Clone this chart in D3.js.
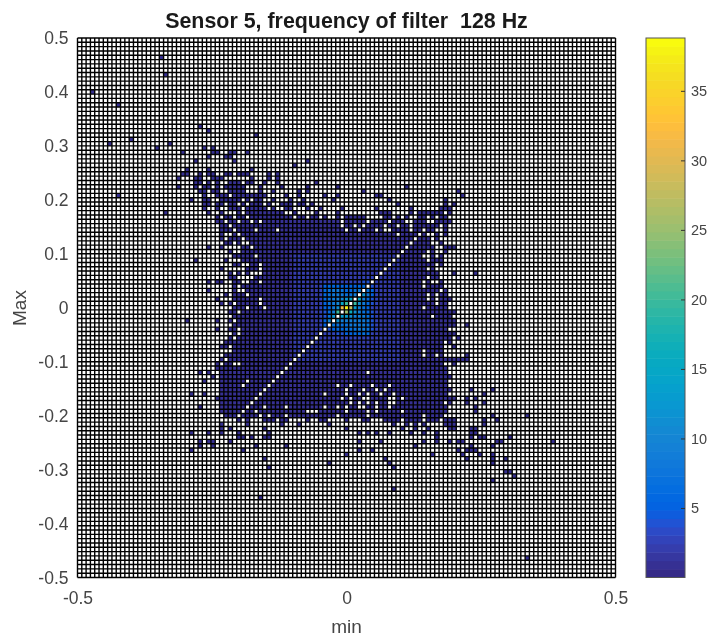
<!DOCTYPE html>
<html>
<head>
<meta charset="utf-8">
<script src="https://cdn.jsdelivr.net/npm/d3@7"></script>
<style>
  html, body { margin: 0; padding: 0; background: #fff; overflow: hidden; }
  svg { display: block; filter: blur(0.35px); font-family: "Liberation Sans", Arial, sans-serif; }
</style>
</head>
<body>
<div id="chart"></div>
<script>
// Histogram cells are addressed as [col, row], col from min = -0.5, row from Max = 0.5
var binCount = 125;
var xTicks = [-0.5, 0, 0.5];
var yTicks = [-0.5, -0.4, -0.3, -0.2, -0.1, 0, 0.1, 0.2, 0.3, 0.4, 0.5];
var barTicks = [5, 10, 15, 20, 25, 30, 35];
var barMax = 38.8;

// Solid part of the cloud, one entry per row starting at bodyTopRow
var bodyTopRow = 31;
var bodyFirst = [28,27,27,27,28,29,26,29,29,30,32,32,33,33,33,33,34,33,35,36,34,36,33,35,35,33,36,36,34,36,35,36,35,36,35,36,35,36,35,34,33,35,34,33,34,33,33,33,33,33,33,33,32,33,33,33,34,34];
var bodyLast = [31,46,55,60,66,70,72,74,85,86,85,86,85,85,85,84,84,87,85,84,84,84,83,83,83,84,84,85,85,86,85,85,86,86,87,87,85,87,86,85,85,85,85,86,87,85,85,86,85,85,86,85,87,86,85,85,85,85];

// Slightly higher counts around the middle
var innerRows = [50,51,52,53,54,55,56,57,58,59,60,61,62,63,64,65,66,67,68,69,70,71,72,73,74];
var innerFirst = 50;
var innerLast = 74;

// Empty runs inside the body: [row, firstCol, lastCol]
var gaps = [
  [31,29,29],
  [32,29,30],[32,34,39],[32,41,43],[32,45,45],
  [33,29,29],[33,31,31],[33,33,34],[33,38,38],[33,41,42],[33,44,45],[33,47,54],
  [34,28,28],[34,31,31],[34,33,33],[34,39,41],[34,43,46],[34,48,52],[34,54,59],
  [35,30,30],[35,33,34],[35,39,41],[35,43,44],[35,46,50],[35,52,52],[35,54,65],
  [36,30,31],[36,35,35],[36,44,47],[36,49,50],[36,52,56],[36,58,68],
  [37,27,28],[37,31,32],[37,38,38],[37,40,40],[37,43,44],[37,46,48],[37,50,51],[37,53,58],[37,60,71],
  [38,31,31],[38,34,34],[38,37,37],[38,39,39],[38,43,43],[38,45,46],[38,50,50],[38,53,53],[38,55,73],
  [39,30,31],[39,33,34],[39,38,38],[39,44,44],[39,46,47],[39,50,52],[39,54,55],[39,57,60],[39,62,68],[39,70,76],[39,78,83],
  [40,31,32],[40,34,36],[40,38,38],[40,48,49],[40,51,54],[40,56,59],[40,61,69],[40,73,76],[40,78,78],[40,85,85],
  [41,33,33],[41,36,36],[41,39,39],[41,50,50],[41,53,53],[41,56,56],[41,58,59],[41,61,61],[41,67,70],[41,73,73],[41,75,75],[41,77,78],[41,81,81],[41,83,83],
  [42,34,34],[42,37,37],[42,40,40],[42,42,42],[42,61,61],[42,67,67],[42,72,72],[42,76,77],[42,81,82],
  [43,35,35],[43,61,61],[43,64,64],[43,66,66],[43,71,71],[43,74,74],[43,77,77],[43,84,84],
  [44,36,36],[44,41,41],[44,46,46],[44,62,62],[44,65,65],[44,69,69],[44,71,72],[44,77,77],[44,80,80],[44,83,84],
  [45,34,35],[45,37,37],[45,74,74],[45,79,79],[45,81,82],[45,84,84],
  [46,34,34],[46,38,38],[46,82,82],[46,84,84],
  [47,36,36],[47,38,39],[47,82,83],
  [48,34,37],[48,40,40],[48,83,84],
  [49,36,37],[49,81,81],[49,83,84],
  [50,41,41],[50,80,81],[50,83,83],
  [51,35,37],[51,81,81],
  [52,38,39],[52,42,42],[52,83,83],
  [53,34,38],[53,42,42],[53,81,81],[53,83,83],
  [54,36,36],[54,38,38],[54,40,42],
  [55,37,40],[55,81,81],
  [56,34,35],[56,38,39],[56,42,42],[56,80,80],[56,82,83],
  [57,37,37],[57,80,80],
  [58,37,38],[58,84,84],
  [59,35,35],[59,39,39],[59,81,81],[59,83,83],
  [60,42,42],[60,81,81],[60,83,83],
  [61,36,36],[61,42,42],[61,83,83],
  [62,39,39],[62,43,43],[62,80,80],
  [63,37,37],[64,82,82],[65,36,36],[67,37,37],[68,37,37],[69,36,36],
  [70,85,85],[71,35,35],[71,85,85],[72,35,35],[72,80,80],[72,85,85],
  [73,83,83],[73,80,80],[73,85,85],[74,34,34],[75,36,37],[75,85,86],
  [77,67,67],[79,39,39],
  [80,38,38],[80,44,44],[80,60,60],[80,63,63],[80,68,68],[80,72,72],
  [81,62,62],[81,66,66],[81,69,69],[81,71,71],
  [82,57,57],[82,62,62],[82,65,65],[82,67,67],[82,70,70],[82,73,73],
  [83,61,61],[83,63,63],[83,66,67],[83,72,73],[83,75,75],
  [84,63,63],[84,65,65],[84,67,67],[84,69,69],[84,72,73],[84,85,85],
  [85,39,39],[85,43,43],[85,48,48],[85,57,57],[85,60,60],[85,62,62],[85,65,66],[85,69,69],[85,72,72],
  [86,38,38],[86,41,41],[86,53,55],[86,62,62],[86,67,67],[86,69,69],[86,75,75],
  [87,42,42],[87,44,44],[87,48,48],[87,60,60],[87,67,67],[87,80,80],[87,85,85],
  [88,33,35],[88,38,38],[88,40,42],[88,46,46],[88,49,52],[88,54,55],[88,58,61],[88,63,65],[88,68,70],[88,75,75],[88,80,80],[88,84,84]
];

// Counts around the peak, rows coreTopRow.. and cols coreLeftCol..
var coreLeftCol = 55;
var coreTopRow = 55;
var coreCounts = [
  [2,2,2,2,2,2,2,2,2,2,2,3,3,3,2],
  [2,2,3,3,3,3,3,3,3,3,3,4,4,4,3],
  [2,3,5,6,6,6,5,5,5,5,6,6,6,4,3],
  [2,3,6,7,8,8,7,6,6,7,8,9,7,5,3],
  [2,3,6,7,8,8,8,7,7,9,12,12,8,5,3],
  [2,3,6,7,8,9,10,12,14,1,15,9,6,4,3],
  [2,3,5,7,8,10,14,20,1,20,11,8,6,4,3],
  [2,3,5,6,8,11,31,38,28,13,9,7,5,3,2],
  [2,3,4,6,9,20,1,25,16,11,9,7,6,4,3],
  [2,3,4,7,12,1,13,13,11,9,9,8,7,4,3],
  [2,3,5,10,1,11,9,9,9,8,8,8,7,4,3],
  [2,3,5,1,7,7,7,7,8,8,8,8,7,4,3],
  [2,3,1,4,5,6,6,7,7,7,8,8,7,4,3],
  [2,2,3,3,3,4,4,5,5,6,6,7,6,3,2],
  [2,2,2,2,3,3,3,3,3,3,3,3,3,2,2]
];

// Empty cells along the main diagonal, listed by column (row = 124 - col)
var diagonalCols = [36,37,38,39,40,41,42,43,44,45,46,47,48,49,50,51,52,53,54,55,56,57,58,59,60,61,
                    63,64,65,66,67,68,69,70,71,72,73,74,75,76,77,78,79,80,82];

// Single stray cells with count 1 outside the body
var strays = [
  [19,4],[20,8],[3,12],[9,15],[28,20],[30,21],[41,22],[12,23],[7,24],[21,24],[18,25],[29,25],[31,25],
  [24,26],[31,26],[32,26],[36,26],[35,26],[39,26],[30,27],[34,27],[35,27],[36,28],[27,28],[50,29],[53,28],
  [25,30],[30,30],[40,30],[24,31],[25,31],[34,31],[35,31],[37,31],[38,31],[39,31],[44,31],[46,31],
  [23,32],[23,34],[9,36],[26,37],[20,40],[76,34],[60,36],[88,35],[89,36],
  [85,37],[69,39],[77,39],[87,38],[85,38],[86,39],[84,39],
  [86,40],[87,48],[87,54],[92,54],[85,59],[86,60],[85,61],[90,66],
  [87,63],[86,64],[87,65],[88,69],[86,70],[87,71],[90,73],[86,74],[87,74],[88,74],[89,74],[90,74],
  [27,51],[30,48],[33,48],[30,56],[32,56],[30,58],[32,60],[33,61],[25,65],[32,65],[32,67],[32,75],[32,76],
  [28,77],[30,77],[31,78],[29,79],[26,82],[29,82],[28,85],
  [86,88],[87,88],
  [33,89],[39,89],[47,89],[51,89],[58,89],[73,89],[76,89],[78,89],[80,89],[85,89],[86,89],[87,89],
  [33,90],[35,90],[43,90],[62,90],[75,90],[78,90],[81,90],[86,90],[87,90],
  [26,91],[30,91],[33,91],[37,91],[44,91],[65,91],[67,91],[69,91],[72,91],[77,91],[80,91],[83,91],[91,91],[92,91],
  [37,92],[38,92],[40,92],[43,92],[44,92],[83,92],[91,92],[93,92],[94,92],[100,92],
  [28,93],[30,93],[31,93],[35,93],[65,93],[70,93],[80,93],[83,93],[86,93],[88,93],[89,93],[97,93],[98,93],[110,93],
  [28,94],[31,94],[41,94],[48,94],[78,94],[91,94],[96,94],
  [26,95],[38,95],[65,95],[68,95],[88,95],[90,95],[91,95],[92,95],
  [62,96],[82,96],[89,96],[93,96],[96,96],[43,97],[71,97],[90,97],[96,97],[99,97],
  [58,98],[72,98],[96,98],[44,99],[73,99],[99,100],[100,100],[101,101],[96,102],[73,104],[42,106],[104,120],
  [91,81],[94,82],[96,81],[90,83],[92,83],[90,84],[94,84],[92,85],[92,86],[96,87],[104,87],[97,88],[94,88],[94,89],[91,90],[92,90]
];

// MATLAB parula, 64 steps
var parula = [
  [.2081,.1663,.5292],[.2116,.1898,.5777],[.2123,.2138,.6270],[.2081,.2386,.6771],[.1959,.2645,.7279],[.1707,.2919,.7792],
  [.1253,.3242,.8303],[.0591,.3598,.8683],[.0117,.3875,.8820],[.0060,.4086,.8828],[.0165,.4266,.8786],[.0329,.4430,.8720],
  [.0498,.4586,.8641],[.0629,.4737,.8554],[.0723,.4887,.8467],[.0779,.5040,.8384],[.0793,.5200,.8312],[.0749,.5375,.8263],
  [.0641,.5570,.8240],[.0488,.5772,.8228],[.0343,.5966,.8199],[.0265,.6137,.8135],[.0239,.6287,.8038],[.0231,.6418,.7913],
  [.0228,.6535,.7768],[.0267,.6642,.7607],[.0384,.6743,.7436],[.0590,.6838,.7254],[.0843,.6928,.7062],[.1133,.7015,.6859],
  [.1453,.7098,.6646],[.1801,.7177,.6424],[.2178,.7250,.6193],[.2586,.7317,.5954],[.3022,.7376,.5712],[.3482,.7424,.5473],
  [.3953,.7459,.5244],[.4420,.7481,.5033],[.4871,.7491,.4840],[.5300,.7491,.4661],[.5709,.7485,.4494],[.6099,.7473,.4337],
  [.6473,.7456,.4188],[.6834,.7435,.4044],[.7184,.7411,.3905],[.7525,.7384,.3768],[.7858,.7356,.3633],[.8185,.7327,.3498],
  [.8507,.7299,.3360],[.8824,.7274,.3217],[.9139,.7258,.3063],[.9450,.7261,.2886],[.9739,.7314,.2666],[.9938,.7455,.2403],
  [.9990,.7653,.2164],[.9955,.7861,.1967],[.9880,.8066,.1794],[.9789,.8271,.1633],[.9697,.8481,.1475],[.9626,.8705,.1309],
  [.9589,.8949,.1132],[.9598,.9218,.0948],[.9661,.9514,.0755],[.9763,.9831,.0538]
].map(function(c) { return d3.rgb(c[0]*255, c[1]*255, c[2]*255).formatHex(); });

var textColor = "#454545";

var visualize = function() {
  var svg = d3.select("#chart").append("svg").attr("width", 708).attr("height", 636);

  // Scales
  var binWidth = 1 / binCount;
  var x = d3.scaleLinear().domain([-0.5, 0.5]).range([77.5, 615.5]);
  var y = d3.scaleLinear().domain([-0.5, 0.5]).range([577.5, 38]);
  var color = d3.scaleQuantize().domain([0, barMax]).range(parula);
  var barY = d3.scaleLinear().domain([0, barMax]).range([577.5, 38]);

  // Build the count table
  var counts = new Map();
  var key = function(c, r) { return c + "," + r; };
  bodyFirst.forEach(function(first, i) {
    d3.range(first, bodyLast[i] + 1).forEach(function(c) { counts.set(key(c, bodyTopRow + i), 1); });
  });
  innerRows.forEach(function(r) {
    d3.range(innerFirst, innerLast + 1).forEach(function(c) { counts.set(key(c, r), 2); });
  });
  gaps.forEach(function(g) {
    d3.range(g[1], g[2] + 1).forEach(function(c) { counts.delete(key(c, g[0])); });
  });
  coreCounts.forEach(function(row, i) {
    row.forEach(function(v, j) { counts.set(key(coreLeftCol + j, coreTopRow + i), v); });
  });
  diagonalCols.forEach(function(c) { counts.delete(key(c, binCount - 1 - c)); });
  strays.forEach(function(s) { counts.set(key(s[0], s[1]), 1); });

  var cells = Array.from(counts, function(e) {
    var p = e[0].split(",");
    return { col: +p[0], row: +p[1], count: e[1] };
  });

  // Cells
  svg.append("g").selectAll("rect")
    .data(cells)
    .enter()
    .append("rect")
    .attr("x", function(d) { return x(-0.5 + d.col * binWidth); })
    .attr("y", function(d) { return y(0.5 - d.row * binWidth); })
    .attr("width", x(binWidth) - x(0))
    .attr("height", y(0) - y(binWidth))
    .attr("fill", function(d) { return color(d.count); });

  // Cell edges
  var edges = d3.range(binCount + 1).map(function(i) { return -0.5 + i * binWidth; });
  svg.append("g").selectAll("line")
    .data(edges)
    .enter()
    .append("line")
    .attr("x1", function(d) { return x(d); })
    .attr("x2", function(d) { return x(d); })
    .attr("y1", y(-0.5))
    .attr("y2", y(0.5))
    .attr("stroke", "#000")
    .attr("stroke-width", 1.4);
  svg.append("g").selectAll("line")
    .data(edges)
    .enter()
    .append("line")
    .attr("x1", x(-0.5))
    .attr("x2", x(0.5))
    .attr("y1", function(d) { return y(d); })
    .attr("y2", function(d) { return y(d); })
    .attr("stroke", "#000")
    .attr("stroke-width", 1.4);

  // Axes
  var plainLabel = function(d) { return String(d); };
  var xAxis = d3.axisBottom(x).tickValues(xTicks).tickSize(0).tickPadding(14).tickFormat(plainLabel);
  var yAxis = d3.axisLeft(y).tickValues(yTicks).tickSize(0).tickPadding(9).tickFormat(plainLabel);
  var gx = svg.append("g").attr("transform", "translate(0," + y(-0.5) + ")").call(xAxis);
  var gy = svg.append("g").attr("transform", "translate(" + x(-0.5) + ",0)").call(yAxis);
  [gx, gy].forEach(function(g) {
    g.select(".domain").remove();
    g.selectAll("text").attr("fill", textColor).style("font-size", "17.5px").style("font-family", "inherit");
  });

  // Colour bar
  var barSteps = parula.map(function(c, i) { return { fill: c, lo: barMax * i / 64, hi: barMax * (i + 1) / 64 }; });
  svg.append("g").selectAll("rect")
    .data(barSteps)
    .enter()
    .append("rect")
    .attr("x", 646)
    .attr("width", 39)
    .attr("y", function(d) { return barY(d.hi); })
    .attr("height", function(d) { return barY(d.lo) - barY(d.hi) + 0.5; })
    .attr("fill", function(d) { return d.fill; });
  svg.append("rect")
    .attr("x", 646).attr("y", barY(barMax))
    .attr("width", 39).attr("height", barY(0) - barY(barMax))
    .attr("fill", "none").attr("stroke", "#555").attr("stroke-width", 1);
  var barAxis = d3.axisRight(barY).tickValues(barTicks).tickSize(-4).tickPadding(6);
  var gb = svg.append("g").attr("transform", "translate(685,0)").call(barAxis);
  gb.select(".domain").remove();
  gb.selectAll("line").attr("stroke", "#333");
  gb.selectAll("text").attr("fill", textColor).style("font-size", "14.5px").style("font-family", "inherit");

  // Labels
  svg.append("text")
    .attr("x", 346.5).attr("y", 27.5)
    .attr("text-anchor", "middle")
    .attr("font-weight", "bold").attr("font-size", 21.4)
    .attr("fill", "#1a1a1a")
    .attr("xml:space", "preserve")
    .style("white-space", "pre")
    .text("Sensor 5, frequency of filter  128 Hz");
  svg.append("text")
    .attr("x", 346.5).attr("y", 633)
    .attr("text-anchor", "middle").attr("font-size", 19)
    .attr("fill", textColor)
    .text("min");
  svg.append("text")
    .attr("transform", "translate(26,308) rotate(-90)")
    .attr("text-anchor", "middle").attr("font-size", 19)
    .attr("fill", textColor)
    .text("Max");
};

visualize();
</script>
</body>
</html>
